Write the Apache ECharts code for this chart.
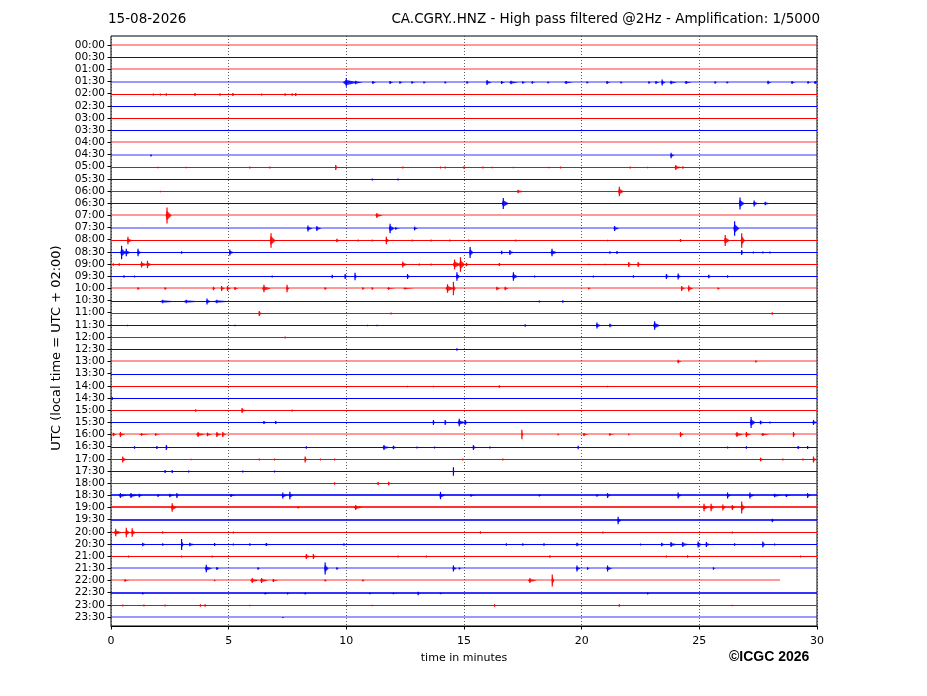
<!doctype html>
<html>
<head>
<meta charset="utf-8">
<title>CA.CGRY..HNZ helicorder</title>
<script src="https://cdn.jsdelivr.net/npm/echarts@6/dist/echarts.min.js"></script>
<style>
    body{margin:0;background:#fff;}
    #main{width:927px;height:696px;}
</style>
</head>
<body>
<div id="main"></div>
<script>
    // tick labels, one per half-hour trace
    var hours = ['00:00','00:30','01:00','01:30','02:00','02:30','03:00','03:30','04:00','04:30',
        '05:00','05:30','06:00','06:30','07:00','07:30','08:00','08:30','09:00','09:30',
        '10:00','10:30','11:00','11:30','12:00','12:30','13:00','13:30','14:00','14:30',
        '15:00','15:30','16:00','16:30','17:00','17:30','18:00','18:30','19:00','19:30',
        '20:00','20:30','21:00','21:30','22:00','22:30','23:00','23:30'];

    // end of data in each trace (minutes)
    var traceEnd = [30,30,30,30,30,30,30,30,30,30, 30,30,30,30,30,30,30,30,30,30,
        30,30,30,30,30,30,30,30,30,30, 30,30,30,30,30,30,30,30,30,30,
        30,30,30,30,28.43,30,30,30];

    // background noise level of each trace: 0 quiet, 1 noisy, 2 very noisy
    var noise = [1,0,1,1,0,0,0,0,1,1, 0,0,0,0,1,1,0,0,0,0,
        1,0,0,0,0,0,1,0,0,0, 0,0,1,0,0,0,0,2,2,2,
        0,0,0,1,1,2,0,1];

    // events: [trace, minute, amplitude (trace spacings), duration (minutes)]
    var events = [
        [3,10.0,0.35,0.5],[3,10.4,0.15,0.3],[3,11.13,0.12,0.15],[3,11.86,0.12,0.15],[3,12.28,0.1,0.15],
        [3,12.79,0.1,0.15],[3,13.3,0.08,0.1],[3,14.2,0.08,0.1],[3,15.13,0.1,0.1],[3,15.98,0.2,0.2],
        [3,16.6,0.12,0.15],[3,17.0,0.15,0.3],[3,17.5,0.1,0.15],[3,17.9,0.1,0.15],[3,18.57,0.08,0.1],
        [3,19.34,0.12,0.3],[3,20.23,0.08,0.1],[3,21.08,0.12,0.15],[3,21.67,0.08,0.1],[3,22.86,0.1,0.1],
        [3,23.16,0.12,0.15],[3,23.42,0.25,0.15],[3,23.8,0.15,0.25],[3,24.44,0.12,0.25],[3,25.67,0.1,0.1],
        [3,26.18,0.08,0.1],[3,27.92,0.15,0.15],[3,28.94,0.12,0.15],[3,29.62,0.1,0.15],[3,29.92,0.12,0.15],
        [4,1.8,0.08,0.2],[4,2.1,0.08,0.2],[4,2.35,0.1,0.15],[4,3.57,0.12,0.1],[4,4.63,0.1,0.15],
        [4,5.18,0.12,0.15],[4,6.4,0.08,0.3],[4,7.4,0.1,0.2],[4,7.7,0.1,0.2],[4,7.85,0.12,0.1],
        [9,1.7,0.08,0.05],[9,23.8,0.22,0.15],
        [10,2.0,0.06,0.3],[10,3.2,0.06,0.1],[10,5.9,0.08,0.1],[10,6.75,0.08,0.1],[10,9.55,0.2,0.1],
        [10,12.4,0.08,0.3],[10,14.0,0.08,0.1],[10,14.2,0.08,0.1],[10,15.0,0.1,0.2],[10,15.8,0.08,0.1],
        [10,16.2,0.06,0.1],[10,17.1,0.06,0.1],[10,18.6,0.06,0.1],[10,19.1,0.08,0.1],[10,22.06,0.08,0.15],
        [10,22.8,0.06,0.1],[10,24.0,0.2,0.3],[10,24.3,0.1,0.1],
        [11,11.1,0.08,0.1],[11,12.2,0.08,0.1],
        [12,2.1,0.06,0.05],[12,17.3,0.15,0.3],[12,21.6,0.4,0.2],
        [13,16.67,0.45,0.25],[13,26.73,0.5,0.2],[13,27.33,0.25,0.2],[13,27.8,0.15,0.25],
        [14,2.38,0.65,0.2],[14,11.3,0.2,0.25],
        [15,8.37,0.25,0.2],[15,8.75,0.2,0.2],[15,11.86,0.4,0.2],[15,12.1,0.1,0.2],[15,12.9,0.15,0.15],
        [15,21.4,0.2,0.2],[15,26.5,0.6,0.2],
        [16,0.72,0.3,0.2],[16,6.8,0.6,0.2],[16,9.6,0.15,0.15],[16,10.5,0.08,0.1],[16,11.1,0.08,0.1],
        [16,11.7,0.3,0.15],[16,12.8,0.08,0.1],[16,13.6,0.08,0.1],[16,14.4,0.08,0.1],[16,15.2,0.08,0.1],
        [16,17.2,0.08,0.1],[16,21.1,0.06,0.1],[16,24.2,0.12,0.2],[16,26.1,0.45,0.2],[16,26.8,0.6,0.15],
        [17,0.45,0.55,0.2],[17,0.65,0.3,0.2],[17,1.15,0.3,0.15],[17,3.0,0.1,0.1],[17,5.05,0.25,0.2],
        [17,15.26,0.45,0.15],[17,16.6,0.15,0.1],[17,16.95,0.2,0.2],[17,18.74,0.3,0.25],[17,21.2,0.1,0.1],
        [17,21.5,0.12,0.1],[17,26.8,0.2,0.1],[17,27.3,0.08,0.1],[17,27.7,0.08,0.1],[17,28.0,0.08,0.1],
        [18,0.1,0.1,0.2],[18,0.35,0.1,0.2],[18,1.3,0.25,0.3],[18,1.55,0.3,0.2],[18,12.4,0.25,0.25],
        [18,13.1,0.08,0.1],[18,13.6,0.08,0.1],[18,14.6,0.4,0.3],[18,14.85,0.6,0.2],[18,15.1,0.15,0.2],
        [18,16.5,0.12,0.2],[18,20.3,0.06,0.1],[18,21.0,0.06,0.1],[18,22.0,0.2,0.15],[18,22.4,0.2,0.15],
        [19,0.55,0.1,0.1],[19,1.0,0.08,0.1],[19,6.85,0.08,0.1],[19,9.4,0.15,0.1],[19,9.95,0.2,0.15],
        [19,10.37,0.3,0.1],[19,12.6,0.2,0.15],[19,14.7,0.35,0.15],[19,17.1,0.35,0.2],[19,18.0,0.08,0.1],
        [19,20.5,0.08,0.1],[19,22.2,0.1,0.15],[19,23.6,0.2,0.15],[19,24.1,0.25,0.15],[19,25.4,0.15,0.15],
        [19,26.2,0.1,0.1],
        [20,1.15,0.1,0.1],[20,2.3,0.1,0.1],[20,4.35,0.15,0.1],[20,4.7,0.2,0.15],[20,4.95,0.2,0.15],
        [20,5.27,0.12,0.15],[20,6.5,0.3,0.3],[20,7.48,0.3,0.1],[20,9.1,0.1,0.1],[20,10.7,0.1,0.1],
        [20,11.1,0.1,0.1],[20,11.8,0.1,0.3],[20,12.5,0.08,0.4],[20,14.3,0.35,0.3],[20,14.55,0.55,0.1],
        [20,16.4,0.15,0.15],[20,16.75,0.15,0.15],[20,20.3,0.08,0.1],[20,24.25,0.2,0.15],[20,24.55,0.25,0.2],
        [20,25.8,0.08,0.1],
        [21,2.2,0.15,0.7],[21,3.2,0.15,0.7],[21,4.08,0.25,0.2],[21,4.5,0.15,0.7],[21,18.2,0.08,0.15],
        [21,19.2,0.1,0.15],
        [22,6.3,0.2,0.15],[22,11.9,0.08,0.1],[22,28.1,0.1,0.05],
        [23,0.7,0.06,0.1],[23,5.27,0.06,0.1],[23,10.9,0.06,0.1],[23,11.3,0.06,0.1],[23,17.6,0.1,0.05],
        [23,20.65,0.25,0.2],[23,21.2,0.15,0.2],[23,23.1,0.35,0.25],
        [24,7.4,0.08,0.15],
        [25,14.7,0.1,0.1],
        [26,24.1,0.15,0.15],[26,27.4,0.08,0.1],
        [28,12.6,0.06,0.05],[28,13.7,0.06,0.05],[28,16.5,0.1,0.1],[28,21.1,0.06,0.1],
        [29,0.05,0.12,0.1],
        [30,3.6,0.1,0.2],[30,5.57,0.2,0.2],[30,7.7,0.08,0.05],
        [31,6.5,0.12,0.3],[31,7.0,0.12,0.15],[31,13.7,0.2,0.1],[31,14.2,0.2,0.1],[31,14.8,0.3,0.3],
        [31,15.05,0.2,0.15],[31,27.2,0.45,0.2],[31,27.6,0.15,0.2],[31,28.0,0.08,0.1],[31,29.85,0.2,0.2],
        [32,0.1,0.15,0.15],[32,0.4,0.2,0.2],[32,1.3,0.1,0.4],[32,1.9,0.1,0.2],[32,3.7,0.2,0.3],
        [32,4.1,0.15,0.2],[32,4.5,0.2,0.2],[32,4.75,0.2,0.15],[32,17.46,0.4,0.05],[32,19.0,0.06,0.1],
        [32,20.1,0.12,0.2],[32,21.2,0.1,0.2],[32,22.0,0.06,0.1],[32,24.2,0.2,0.15],[32,26.6,0.2,0.3],
        [32,27.0,0.2,0.2],[32,27.7,0.12,0.3],[32,29.0,0.2,0.1],
        [33,1.0,0.1,0.3],[33,1.95,0.12,0.1],[33,2.35,0.2,0.1],[33,8.3,0.1,0.15],[33,11.6,0.2,0.3],
        [33,12.0,0.15,0.2],[33,13.0,0.08,0.1],[33,13.75,0.08,0.1],[33,15.4,0.2,0.15],[33,16.1,0.08,0.1],
        [33,19.85,0.15,0.05],[33,26.2,0.08,0.1],[33,27.0,0.1,0.2],[33,29.2,0.12,0.2],[33,29.6,0.12,0.1],
        [34,0.5,0.25,0.2],[34,3.4,0.06,0.1],[34,6.3,0.08,0.1],[34,6.95,0.08,0.1],[34,8.25,0.25,0.1],
        [34,8.9,0.08,0.3],[34,9.5,0.08,0.3],[34,14.95,0.08,0.1],[34,16.65,0.08,0.1],[34,27.6,0.15,0.2],
        [34,28.55,0.08,0.1],[34,29.4,0.08,0.1],[34,29.85,0.25,0.15],
        [35,2.3,0.12,0.1],[35,2.6,0.12,0.1],[35,3.3,0.08,0.3],[35,5.6,0.08,0.3],[35,6.95,0.08,0.1],
        [35,14.55,0.35,0.05],
        [36,9.5,0.1,0.15],[36,11.35,0.12,0.15],[36,11.8,0.15,0.1],[36,17.9,0.04,0.1],
        [37,0.4,0.2,0.3],[37,0.85,0.2,0.3],[37,1.2,0.15,0.15],[37,2.0,0.12,0.1],[37,2.5,0.15,0.2],
        [37,2.8,0.2,0.1],[37,5.1,0.12,0.2],[37,7.3,0.25,0.2],[37,7.6,0.3,0.15],[37,14.0,0.3,0.2],
        [37,15.3,0.1,0.2],[37,18.2,0.08,0.1],[37,20.65,0.1,0.1],[37,21.1,0.2,0.15],[37,24.1,0.25,0.15],
        [37,26.2,0.25,0.15],[37,27.15,0.25,0.2],[37,28.2,0.15,0.3],[37,28.7,0.12,0.2],[37,29.6,0.2,0.15],
        [38,2.6,0.35,0.2],[38,7.95,0.08,0.1],[38,10.4,0.2,0.3],[38,25.2,0.3,0.2],[38,25.5,0.3,0.15],
        [38,26.0,0.25,0.15],[38,26.4,0.2,0.15],[38,26.8,0.5,0.15],
        [39,21.55,0.3,0.15],[39,28.1,0.15,0.1],
        [40,0.2,0.3,0.3],[40,0.65,0.4,0.15],[40,0.9,0.35,0.15],[40,2.2,0.1,0.1],[40,5.2,0.08,0.1],
        [40,15.7,0.1,0.2],[40,20.9,0.08,0.2],[40,26.4,0.08,0.3],
        [41,1.35,0.15,0.2],[41,2.2,0.1,0.1],[41,3.0,0.45,0.1],[41,3.35,0.15,0.3],[41,4.4,0.12,0.2],
        [41,5.2,0.08,0.1],[41,5.9,0.1,0.1],[41,6.6,0.12,0.3],[41,9.9,0.1,0.1],[41,16.8,0.1,0.1],
        [41,17.5,0.1,0.1],[41,18.4,0.1,0.3],[41,19.8,0.15,0.2],[41,22.5,0.08,0.1],[41,23.4,0.15,0.2],
        [41,23.8,0.2,0.3],[41,24.3,0.2,0.3],[41,24.95,0.25,0.2],[41,25.3,0.2,0.2],[41,26.5,0.1,0.3],
        [41,27.7,0.25,0.15],[41,28.2,0.08,0.1],
        [42,0.75,0.08,0.1],[42,3.0,0.08,0.1],[42,4.3,0.08,0.1],[42,8.3,0.2,0.2],[42,8.6,0.2,0.15],
        [42,12.2,0.08,0.1],[42,13.4,0.08,0.2],[42,18.65,0.1,0.1],[42,23.6,0.08,0.1],[42,24.5,0.1,0.1],
        [42,29.3,0.08,0.1],
        [43,4.05,0.3,0.25],[43,4.5,0.12,0.1],[43,6.25,0.1,0.1],[43,9.1,0.5,0.15],[43,9.6,0.1,0.1],
        [43,14.55,0.25,0.15],[43,14.8,0.08,0.1],[43,19.8,0.25,0.15],[43,20.25,0.1,0.1],[43,21.1,0.25,0.2],
        [43,25.6,0.1,0.1],
        [44,0.6,0.1,0.2],[44,4.4,0.06,0.1],[44,6.0,0.2,0.3],[44,6.4,0.2,0.3],[44,6.9,0.12,0.2],
        [44,9.1,0.08,0.1],[44,10.7,0.08,0.1],[44,17.8,0.2,0.3],[44,18.75,0.5,0.1],
        [45,1.35,0.08,0.1],[45,6.55,0.08,0.2],[45,7.5,0.08,0.1],[45,8.25,0.08,0.1],[45,11.0,0.06,0.2],
        [45,12.0,0.06,0.2],[45,13.05,0.15,0.1],[45,14.0,0.06,0.2],[45,22.8,0.08,0.1],
        [46,0.5,0.08,0.5],[46,1.4,0.08,0.6],[46,2.3,0.08,0.5],[46,3.8,0.1,0.1],[46,4.0,0.1,0.1],
        [46,5.9,0.06,0.1],[46,11.1,0.06,0.1],[46,16.3,0.1,0.2],[46,21.6,0.1,0.2],[46,26.4,0.06,0.1],
        [47,7.3,0.04,0.1]
    ];

    var FONT = 'DejaVu Sans';
    var noiseStyle = [{w: 1, a: 1}, {w: 2, a: 0.4}, {w: 2, a: 0.8}];
    function traceColor(i, alpha) {
        return i % 2 === 0 ? 'rgba(255,0,0,' + alpha + ')' : 'rgba(0,0,255,' + alpha + ')';
    }

    var traces = hours.map(function (h, i) { return [i, traceEnd[i], noise[i]]; });

    var myChart = echarts.init(document.getElementById('main'));
    var option = {
        animation: false,
        backgroundColor: '#fff',
        title: [{
            text: '15-08-2026', left: 103, top: 7,
            textStyle: {fontFamily: FONT, fontSize: 13.5, fontWeight: 'normal', color: '#000'}
        }, {
            text: 'CA.CGRY..HNZ - High pass filtered @2Hz - Amplification: 1/5000', right: 102, top: 7,
            textStyle: {fontFamily: FONT, fontSize: 13.5, fontWeight: 'normal', color: '#000'}
        }],
        grid: [
            {left: 111, right: 110, top: 36, bottom: 70, show: true, borderColor: '#000', borderWidth: 1},
            // label grid: one band per trace, label in band centre
            {left: 111, right: 110, top: 38.9, height: 584.2, show: false}
        ],
        xAxis: [{
            type: 'value', gridIndex: 0, min: 0, max: 30, interval: 5,
            name: 'time in minutes', nameLocation: 'middle', nameGap: 27,
            nameTextStyle: {fontFamily: FONT, fontSize: 11, color: '#000'},
            axisLine: {show: true, onZero: false, lineStyle: {color: '#000', width: 1}},
            axisTick: {show: true, length: 3.5, lineStyle: {color: '#000'}},
            axisLabel: {fontFamily: FONT, fontSize: 11, color: '#000', margin: 10},
            splitLine: {show: true, lineStyle: {color: '#333', width: 0.8, type: [1, 2]}}
        }, {
            type: 'value', gridIndex: 1, min: 0, max: 30, show: false
        }],
        yAxis: [{
            type: 'value', gridIndex: 0, inverse: true, min: -0.74, max: 47.74,
            axisLine: {show: false, onZero: false}, axisTick: {show: false}, axisLabel: {show: false},
            splitLine: {show: false}
        }, {
            type: 'category', gridIndex: 1, inverse: true, data: hours, boundaryGap: true,
            axisLine: {show: false, onZero: false},
            axisTick: {show: true, alignWithLabel: true, interval: 0, length: 3.5, lineStyle: {color: '#000'}},
            axisLabel: {interval: 0, fontFamily: FONT, fontSize: 10.5, color: '#000', margin: 6},
            splitLine: {show: false}
        }],
        graphic: [{
            type: 'text', left: 50, top: 'middle', rotation: Math.PI / 2,
            style: {text: 'UTC (local time = UTC + 02:00)', font: '13px "DejaVu Sans"', fill: '#000'},
            x: 57, y: 331
        }, {
            type: 'text', left: 729, top: 650,
            style: {text: '\u00a9ICGC 2026', font: 'bold 14px "Liberation Sans"', fill: '#000'}
        }],
        series: [{
            type: 'custom',
            xAxisIndex: 0, yAxisIndex: 0,
            clip: true,
            data: traces,
            renderItem: function (params, api) {
                var i = api.value(0);
                var p0 = api.coord([0, i]);
                var p1 = api.coord([api.value(1), i]);
                var st = noiseStyle[api.value(2)];
                var y = st.w === 1 ? Math.round(p0[1]) + 0.5 : Math.round(p0[1]);
                return {
                    type: 'line',
                    shape: {x1: p0[0], y1: y, x2: p1[0], y2: y},
                    style: {stroke: traceColor(i, st.a), lineWidth: st.w}
                };
            }
        }, {
            type: 'custom',
            xAxisIndex: 0, yAxisIndex: 0,
            clip: true,
            data: events,
            renderItem: function (params, api) {
                var i = api.value(0);
                var p = api.coord([api.value(1), i]);
                var unit = api.size([1, 1]);
                var a = api.value(2) * unit[1];
                var w = api.value(3) * unit[0];
                var y = Math.round(p[1]) + 0.5;
                return {
                    type: 'group',
                    children: [{
                        type: 'polygon',
                        shape: {points: [[p[0] - 0.3 * w, y], [p[0] - 0.05 * w, y - 0.6 * a],
                            [p[0] + 0.15 * w, y - 0.5 * a], [p[0] + w, y],
                            [p[0] + 0.15 * w, y + 0.5 * a], [p[0] - 0.05 * w, y + 0.6 * a]]},
                        style: {fill: traceColor(i, 0.85)}
                    }, {
                        type: 'line',
                        shape: {x1: p[0], y1: y - a, x2: p[0], y2: y + a},
                        style: {stroke: traceColor(i, 1), lineWidth: 1.2}
                    }]
                };
            }
        }]
    };
    myChart.setOption(option);
</script>
</body>
</html>
